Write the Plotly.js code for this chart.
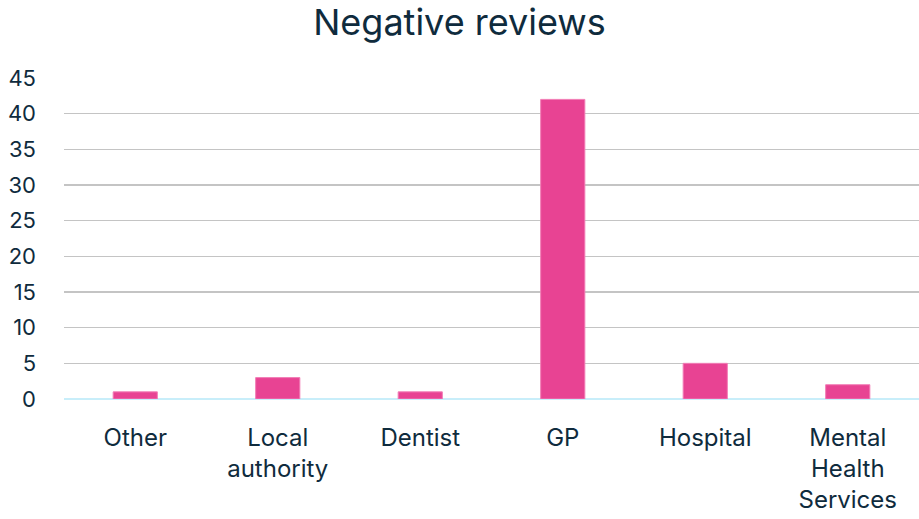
<!DOCTYPE html>
<html>
<head>
<meta charset="utf-8">
<script src="https://cdn.plot.ly/plotly-3.0.1.min.js"></script>
<style>html,body{margin:0;padding:0;background:#fff;}#chart{width:919px;height:519px;}</style>
</head>
<body>
<div id="chart"></div>
<script>
const categories = ["Other", "Local<br>authority", "Dentist", "GP", "Hospital", "Mental<br>Health<br>Services"];
const values = [1, 3, 1, 42, 5, 2];
const yTicks = [0, 5, 10, 15, 20, 25, 30, 35, 40, 45];

const textColor = "#0f2b3d";
const fontFamily = "Inter, 'Open Sans', sans-serif";

Plotly.newPlot("chart", [{
  type: "bar",
  x: categories,
  y: values,
  marker: {color: "#e84393", line: {color: "#f27db6", width: 1}},
  width: 0.31,
  hoverinfo: "x+y"
}], {
  width: 919, height: 519,
  margin: {l: 64, r: 0, t: 78, b: 120},
  paper_bgcolor: "#ffffff",
  plot_bgcolor: "#ffffff",
  title: {text: "Negative reviews", x: 0.5, xanchor: "center", y: 0.957, yanchor: "middle",
          font: {family: fontFamily, size: 36, color: textColor}},
  font: {family: fontFamily, color: textColor},
  xaxis: {
    tickfont: {size: 24, color: textColor},
    showgrid: false, showline: false, zeroline: false,
    ticks: "", ticklabelstandoff: 22
  },
  yaxis: {
    range: [0, 45], tickvals: yTicks, ticktext: yTicks.map(String),
    tickfont: {size: 22, color: textColor},
    showgrid: true, gridcolor: "#c4c4c4", gridwidth: 1.5,
    zeroline: true, zerolinecolor: "#c8eefa", zerolinewidth: 2,
    showline: false, ticks: "", ticklabelstandoff: 27
  },
  showlegend: false,
  bargap: 0.69
}, {displayModeBar: false, staticPlot: true});
</script>
</body>
</html>
